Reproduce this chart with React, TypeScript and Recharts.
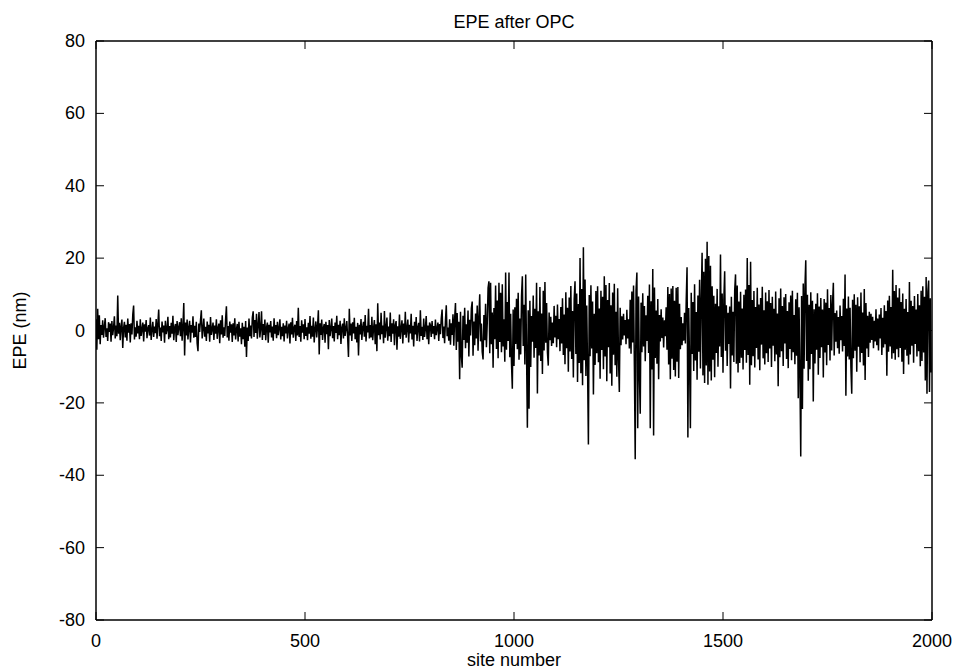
import { LineChart, Line, XAxis, YAxis } from "recharts";

// EPE (nm) per site, sampled every 2 sites
const epe0to198 = [
  3.1, -5.3, 6.0, -2.4, 4.2, -3.8, 1.5, -1.2, 2.8, -2.0, 1.0, 3.4, -1.8, 0.6, -2.9, 2.3, -0.4, 1.9, -3.1, 2.6,
  -1.3, 0.8, 3.9, -2.2, 1.4, -1.6, 9.7, -0.9, 2.1, -2.7, 1.2, 3.0, -4.8, 0.7, 2.4, -1.9, 1.6, -2.8, 3.3, -0.6,
  1.8, -3.3, 2.0, -1.1, 4.4, 6.9, -2.5, 0.9, -1.7, 2.7, -0.8, 1.3, -2.4, 3.1, -1.5, 0.4, 2.2, -3.0, 1.7, -0.3,
  2.9, -2.1, 0.6, 1.5, -1.4, 3.6, -2.6, 0.2, 2.4, -1.8, 1.1, -0.7, 3.2, -2.3, 1.9, 5.8, -1.6, 0.8, -2.9, 2.5,
  -0.5, 1.4, -3.4, 2.7, -1.0, 0.3, 3.8, -2.4, 1.2, -1.9, 2.1, -0.9, 4.1, -2.7, 0.7, 1.8, -3.2, 2.6, -1.3, 0.9,
];
const epe200to398 = [
  2.3, -1.6, 3.4, -2.8, 1.1, 7.6, -6.9, 2.2, -1.4, 3.0, -2.5, 0.8, 2.7, -3.3, 1.5, -0.6, 3.9, -2.0, 1.3, -1.8,
  2.4, -3.6, -5.7, 1.9, -0.4, 2.8, 5.6, -2.2, 0.5, 3.3, -1.7, 1.0, -2.9, 2.5, -0.8, 1.6, -3.1, 3.7, -1.2, 0.4,
  2.2, -2.6, 1.4, -0.9, 3.1, -2.3, 0.7, 1.9, -3.5, 2.8, -1.1, 4.2, -2.0, 0.9, -1.5, 3.0, 6.7, -1.9, 1.2, -2.8,
  2.5, -0.6, 1.7, -3.2, 2.0, -1.4, 3.4, -2.5, 0.3, 1.8, -3.0, 2.4, -1.7, 0.6, -3.8, 2.1, -2.4, 1.0, -4.5, 2.6,
  -7.3, 0.8, -2.9, 3.3, -1.6, 1.4, -2.2, 3.6, 5.3, -1.8, 2.9, -0.7, 4.6, -2.3, 1.5, 5.1, -1.9, 0.6, 5.3, -2.6,
];
const epe400to598 = [
  1.8, -1.2, 3.0, -2.7, 0.9, 2.2, -3.4, 1.6, -0.5, 2.6, -1.9, 1.1, -2.8, 3.4, -0.9, 1.5, -2.1, 2.4, -1.3, 0.7,
  3.1, -2.5, 1.0, -1.6, 2.0, -3.0, 1.4, -0.8, 2.7, -2.2, 0.5, 1.9, -3.6, 2.3, -1.1, 3.5, -2.0, 0.8, 1.6, -2.9,
  2.6, -1.4, 6.3, -1.8, 1.2, -3.1, 2.8, -0.6, 1.7, -2.4, 3.2, -1.5, 0.9, -2.7, 2.1, -0.9, 4.0, -2.3, 1.3, -1.7,
  3.6, -3.3, 0.4, 2.5, -1.9, 1.1, 5.6, -6.6, 2.0, -1.2, 3.0, -2.6, 0.7, 1.8, -3.4, 2.4, -1.0, 1.5, -5.2, 2.9,
  -1.6, 0.6, 3.3, -2.1, 1.2, -3.0, 2.2, -0.7, 4.1, -2.4, 1.6, -1.3, 2.7, -3.7, 0.8, 1.9, -2.2, 3.4, -1.5, 0.5,
];
const epe600to798 = [
  2.6, -1.8, -7.3, 6.0, -1.4, 1.9, -2.9, 2.3, -0.8, 3.5, -2.4, 1.0, -3.3, 2.1, -6.9, 1.6, -1.1, 3.2, -2.6, 0.9,
  2.4, -1.7, 4.3, -3.0, 1.3, -0.5, 6.0, -2.2, 1.5, -1.9, 3.8, -2.7, 0.6, 2.9, -3.8, 1.7, -5.7, 7.5, -1.3, 2.2,
  -2.5, 4.9, -1.0, 1.4, -3.5, 5.4, -2.0, 0.8, 3.6, -2.8, 1.1, -1.6, 5.0, -3.2, 2.0, -0.9, 3.1, -4.1, 1.5, 2.6,
  -5.3, 1.2, -1.7, 4.4, -2.3, 0.7, 2.8, -3.6, 1.9, -1.2, 5.2, -2.0, 0.5, 3.0, -3.3, 1.6, -0.8, 4.6, -2.5, 1.3,
  -4.4, 2.4, -1.1, 3.7, -2.9, 0.9, 2.1, -3.0, 5.6, -1.5, 1.0, -2.6, 3.3, -1.8, 0.6, 4.0, -2.4, 1.4, -3.8, 2.2,
];
const epe800to998 = [
  1.5, -1.8, 2.6, -0.9, 1.2, -2.4, 3.0, -1.3, 0.6, 2.2, -2.9, 1.8, -1.0, 3.4, 5.8, -2.1, 1.1, -3.5, 2.7, 7.0,
  -1.6, 0.8, -2.8, 3.1, -3.9, 2.0, -1.2, 4.5, -4.2, 3.3, 7.6, -5.4, 4.8, -3.1, 2.4, -13.5, 5.2, -6.8, -10.3, 4.1,
  -2.6, 6.3, -4.9, 1.7, -3.4, 5.5, -7.2, 3.0, -1.4, 6.1, 8.0, -7.0, 2.5, -4.1, 4.7, -2.2, 6.9, -5.6, 3.6, 10.0,
  -3.0, 1.9, -5.9, -8.0, 4.3, -2.7, 7.4, -4.6, 2.1, 11.8, 13.6, -6.3, 13.2, -3.8, 5.0, -10.3, 6.2, -2.4, 12.4, -5.1,
  8.3, -7.7, 13.2, -3.2, 10.4, -6.0, 12.8, -4.4, 3.1, -8.6, 16.0, -5.3, 7.9, -2.9, 16.0, -7.4, 4.6, -9.1, -16.1, 5.8,
];
const epe1000to1198 = [
  -9.8, 6.4, -3.7, 8.8, -5.2, 10.4, -8.1, 3.3, -6.6, 9.5, 15.0, -4.3, 7.1, -9.4, 15.5, -6.2, -26.9, 5.6, -21.6, 8.2,
  -10.1, 4.0, -3.1, 9.7, -7.5, 6.0, -4.8, 13.2, -17.4, 5.3, -6.9, 12.0, -8.4, 4.7, -12.0, 11.0, -5.5, 13.4, -3.4, 7.6,
  -6.1, -9.7, 5.0, -2.7, 3.8, -4.3, 2.2, -3.5, 6.8, -1.9, 4.1, -4.6, 7.2, -2.4, 3.2, -5.7, 6.5, -3.6, 8.9, -6.8,
  4.4, -9.3, 10.6, -4.9, 6.3, -11.4, 9.1, -5.8, 12.3, -7.9, 5.4, -13.0, 8.6, 13.6, -6.5, 10.2, -14.2, 7.3, -9.0, 20.0,
  -11.8, 11.5, -15.1, 23.0, -8.2, 14.1, -12.6, 6.9, -10.3, -31.5, 9.8, -7.1, 12.5, -5.0, 8.0, -17.7, 4.6, -9.5, 10.9, -6.3,
];
const epe1200to1398 = [
  12.2, -8.8, 6.1, -13.3, 11.0, -5.4, 9.3, -10.7, 15.0, -7.2, 12.6, -14.0, 8.4, -4.6, 13.1, -11.9, 7.0, -15.3, 10.5, -6.7,
  12.9, -9.6, 5.2, -12.8, 11.7, -8.0, -17.0, 6.3, -4.1, 3.9, -2.5, 4.6, -1.4, 2.9, -3.8, 5.7, -2.2, 3.1, -5.0, 8.5,
  -6.4, 10.8, -3.3, 12.4, -9.9, -35.6, 11.2, 16.0, -27.0, 9.4, -12.1, -23.0, 7.7, -6.0, 10.3, -4.4, 6.8, -8.5, 4.2, -2.9,
  9.6, -6.2, 12.7, -27.0, 8.1, -10.8, 17.0, -29.0, 11.9, -7.6, 5.5, -9.2, 8.7, -13.5, 4.3, -3.0, 5.9, -2.1, 3.6, -4.7,
  2.8, -1.6, 6.4, -5.3, 12.0, -9.4, 10.1, -13.5, 11.6, -7.8, 12.3, -10.9, 8.2, -12.7, 11.8, -8.6, 12.0, -13.1, 7.4, -5.2,
];
const epe1400to1598 = [
  3.7, -4.1, 2.0, -2.8, 4.9, -3.6, 8.3, 17.5, -29.6, 6.2, -9.0, -27.0, 10.4, -6.5, 7.9, -11.2, 12.8, -8.3, 5.1, -13.6,
  9.7, -5.9, 14.0, -10.5, 8.8, 21.5, -12.4, 16.2, -14.5, 19.8, -9.7, 24.5, -15.0, 20.6, -11.3, 17.9, -13.8, 12.2, -8.1, 9.6,
  -12.9, 7.4, -6.2, 11.5, -10.0, 6.7, -4.4, 21.0, -7.3, 10.2, -11.7, 8.5, 16.4, -5.6, 7.0, -9.8, 4.9, -3.7, 6.6, -16.0,
  9.3, -6.9, 5.2, -8.7, 11.1, 15.5, -9.2, 12.4, -11.6, 8.0, -9.0, 10.7, -7.5, 6.1, -10.8, 9.9, -5.4, 11.3, -8.9, 20.0,
  -6.8, 12.6, -15.0, 19.0, -9.6, 8.4, -7.1, 10.9, -10.2, 6.5, -4.8, 11.8, -8.0, 7.2, -11.0, 9.0, -3.9, 12.1, -7.7, 5.6,
];
const epe1600to1798 = [
  -9.4, 10.5, -6.3, 8.1, -8.7, 11.2, -5.0, 7.6, -10.1, 9.3, -4.2, 6.0, -8.5, 10.8, -6.6, 4.7, -15.4, 8.9, -7.4, 11.6,
  -5.7, 6.8, -9.8, 9.2, -3.6, 10.1, -7.9, 5.4, -10.4, 7.8, -5.1, 9.7, -8.2, 11.0, -6.0, 4.3, -9.3, 8.6, -7.0, 10.4,
  -18.7, 6.4, -12.3, -34.8, 9.5, -21.7, 13.0, -10.6, 11.8, 19.4, -8.4, 9.9, -13.9, 7.1, -10.7, 10.6, -6.5, 8.2, -19.6, 5.9,
  -9.1, 7.4, -5.3, 10.3, -12.2, 6.6, -7.6, 9.0, -4.6, 5.8, -13.0, 8.7, -6.1, 7.7, -9.6, 11.4, -4.0, 6.2, -8.3, 9.8,
  -5.5, 7.3, 13.2, -6.9, 4.8, -3.1, 5.5, -4.9, 3.7, -6.4, 6.9, -2.7, 4.0, -5.8, 8.8, -4.3, 15.5, -18.0, 6.1, -7.2,
];
const epe1800to1998 = [
  9.4, -8.0, 6.3, -10.2, -17.5, 8.5, -7.7, 10.0, -5.6, 7.1, -11.4, 9.2, -4.5, 6.7, -8.8, 10.5, -6.2, 5.0, -9.7, 11.5,
  -13.7, 7.6, -5.0, 4.1, -7.3, 5.2, -3.4, 4.6, -2.6, 3.8, -4.9, 2.7, -3.0, 5.9, -4.1, 3.3, -5.5, 4.4, -2.2, 6.2,
  -6.8, 3.5, -4.7, 7.0, -3.8, 5.4, -12.5, 8.3, -5.9, 9.6, -4.4, 6.5, -7.8, 16.8, -6.3, 10.9, -8.1, 12.6, -5.2, 9.1,
  -7.4, 11.7, -4.8, 7.9, -8.6, 10.2, -12.0, 6.0, -5.3, 8.7, -7.0, 5.1, -9.4, 13.4, -6.6, 8.2, -4.2, 6.8, -8.9, 9.5,
  -3.7, 5.8, -7.2, 10.1, -5.7, 7.0, -9.9, 11.0, -8.4, 12.2, -6.1, 9.3, -13.8, 14.8, -17.5, 10.6, 13.8, -17.0, 8.9, -11.6,
];

const xTicks = [0, 500, 1000, 1500, 2000];
const yTicks = [-80, -60, -40, -20, 0, 20, 40, 60, 80];

const data = [
  ...epe0to198, ...epe200to398, ...epe400to598, ...epe600to798, ...epe800to998,
  ...epe1000to1198, ...epe1200to1398, ...epe1400to1598, ...epe1600to1798, ...epe1800to1998,
].map((epe, i) => ({ site: i * 2, epe }));

const FONT = "'Liberation Sans', Arial, Helvetica, sans-serif";
const TICK = 8;

const BottomTick = (p: any) => (
  <g>
    <line x1={p.x} y1={p.y} x2={p.x} y2={p.y - TICK} stroke="#000" />
    <text x={p.x} y={p.y + 27} textAnchor="middle" fontSize={18} fontFamily={FONT} fill="#000">
      {p.payload.value}
    </text>
  </g>
);
const TopTick = (p: any) => <line x1={p.x} y1={p.y} x2={p.x} y2={p.y + TICK} stroke="#000" />;
const LeftTick = (p: any) => (
  <g>
    <line x1={p.x} y1={p.y} x2={p.x + TICK} y2={p.y} stroke="#000" />
    <text x={p.x - 11} y={p.y + 6} textAnchor="end" fontSize={18} fontFamily={FONT} fill="#000">
      {p.payload.value}
    </text>
  </g>
);
const RightTick = (p: any) => <line x1={p.x} y1={p.y} x2={p.x - TICK} y2={p.y} stroke="#000" />;

export default function App() {
  return (
    <div style={{ position: "absolute", left: 0, top: 0, background: "#fff" }}>
      <LineChart width={955} height={669} data={data} margin={{ top: 0, right: 0, bottom: 0, left: 0 }}>
        <XAxis
          dataKey="site"
          type="number"
          domain={[0, 2000]}
          ticks={xTicks}
          allowDataOverflow
          height={49}
          tickSize={0}
          tickMargin={0}
          tickLine={false}
          axisLine={{ stroke: "#000", strokeWidth: 1.5 }}
          tick={BottomTick}
          label={{
            content: (props: any) => (
              <text
                x={props.viewBox.x + props.viewBox.width / 2}
                y={666}
                textAnchor="middle"
                fontSize={18}
                fontFamily={FONT}
                fill="#000"
              >
                site number
              </text>
            ),
          }}
        />
        <XAxis
          xAxisId="top"
          orientation="top"
          dataKey="site"
          type="number"
          domain={[0, 2000]}
          ticks={xTicks}
          allowDataOverflow
          height={41}
          tickSize={0}
          tickMargin={0}
          tickLine={false}
          axisLine={{ stroke: "#000", strokeWidth: 1.5 }}
          tick={TopTick}
          label={{
            content: (props: any) => (
              <text
                x={props.viewBox.x + props.viewBox.width / 2}
                y={28}
                textAnchor="middle"
                fontSize={18}
                fontFamily={FONT}
                fill="#000"
              >
                EPE after OPC
              </text>
            ),
          }}
        />
        <YAxis
          type="number"
          domain={[-80, 80]}
          ticks={yTicks}
          allowDataOverflow
          width={96}
          tickSize={0}
          tickMargin={0}
          tickLine={false}
          axisLine={{ stroke: "#000", strokeWidth: 1.5 }}
          tick={LeftTick}
          label={{
            content: (props: any) => {
              const cy = props.viewBox.y + props.viewBox.height / 2;
              return (
                <text
                  x={26}
                  y={cy}
                  transform={`rotate(-90, 26, ${cy})`}
                  textAnchor="middle"
                  fontSize={18}
                  fontFamily={FONT}
                  fill="#000"
                >
                  EPE (nm)
                </text>
              );
            },
          }}
        />
        <YAxis
          yAxisId="right"
          orientation="right"
          type="number"
          domain={[-80, 80]}
          ticks={yTicks}
          allowDataOverflow
          width={23}
          tickSize={0}
          tickMargin={0}
          tickLine={false}
          axisLine={{ stroke: "#000", strokeWidth: 1.5 }}
          tick={RightTick}
        />
        <Line
          type="linear"
          dataKey="epe"
          stroke="#000"
          strokeWidth={1.5}
          dot={false}
          isAnimationActive={false}
        />
      </LineChart>
    </div>
  );
}
